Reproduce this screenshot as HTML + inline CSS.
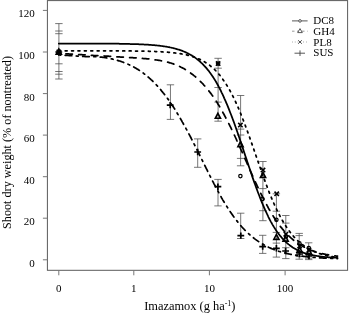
<!DOCTYPE html>
<html><head><meta charset="utf-8"><title>Imazamox dose response</title>
<style>
html,body{margin:0;padding:0;background:#fff}
svg{display:block}
.t{font-family:"Liberation Serif",serif;font-size:11px;fill:#000}
.l{font-family:"Liberation Serif",serif;font-size:12.2px;fill:#000}
</style></head><body>
<svg width="350" height="313" viewBox="0 0 350 313">
<rect width="350" height="313" fill="#fff"/>
<rect x="47.4" y="0.6" width="300.20000000000005" height="269.7" fill="none" stroke="#5a5a5a" stroke-width="1"/>
<line x1="42.9" y1="259.8" x2="47.4" y2="259.8" stroke="#777" stroke-width="1"/>
<text x="34.8" y="266.7" text-anchor="end" class="t">0</text>
<line x1="42.9" y1="218.2" x2="47.4" y2="218.2" stroke="#777" stroke-width="1"/>
<text x="34.8" y="225.1" text-anchor="end" class="t">20</text>
<line x1="42.9" y1="176.7" x2="47.4" y2="176.7" stroke="#777" stroke-width="1"/>
<text x="34.8" y="183.6" text-anchor="end" class="t">40</text>
<line x1="42.9" y1="135.1" x2="47.4" y2="135.1" stroke="#777" stroke-width="1"/>
<text x="34.8" y="142.0" text-anchor="end" class="t">60</text>
<line x1="42.9" y1="93.6" x2="47.4" y2="93.6" stroke="#777" stroke-width="1"/>
<text x="34.8" y="100.5" text-anchor="end" class="t">80</text>
<line x1="42.9" y1="52.0" x2="47.4" y2="52.0" stroke="#777" stroke-width="1"/>
<text x="34.8" y="58.9" text-anchor="end" class="t">100</text>
<line x1="42.9" y1="10.4" x2="47.4" y2="10.4" stroke="#777" stroke-width="1"/>
<text x="34.8" y="17.3" text-anchor="end" class="t">120</text>
<line x1="58.8" y1="270.3" x2="58.8" y2="275.3" stroke="#777" stroke-width="1"/>
<text x="58.8" y="292.2" text-anchor="middle" class="t">0</text>
<line x1="133.8" y1="270.3" x2="133.8" y2="275.3" stroke="#777" stroke-width="1"/>
<text x="133.8" y="292.2" text-anchor="middle" class="t">1</text>
<line x1="209.4" y1="270.3" x2="209.4" y2="275.3" stroke="#777" stroke-width="1"/>
<text x="209.4" y="292.2" text-anchor="middle" class="t">10</text>
<line x1="285.1" y1="270.3" x2="285.1" y2="275.3" stroke="#777" stroke-width="1"/>
<text x="285.1" y="292.2" text-anchor="middle" class="t">100</text>
<line x1="58.9" y1="23.6" x2="58.9" y2="79.0" stroke="#4a4a4a" stroke-width="0.75"/>
<line x1="55.199999999999996" y1="23.6" x2="62.6" y2="23.6" stroke="#4a4a4a" stroke-width="0.75"/>
<line x1="55.199999999999996" y1="31.0" x2="62.6" y2="31.0" stroke="#4a4a4a" stroke-width="0.75"/>
<line x1="55.199999999999996" y1="33.7" x2="62.6" y2="33.7" stroke="#4a4a4a" stroke-width="0.75"/>
<line x1="55.199999999999996" y1="63.8" x2="62.6" y2="63.8" stroke="#4a4a4a" stroke-width="0.75"/>
<line x1="55.199999999999996" y1="71.5" x2="62.6" y2="71.5" stroke="#4a4a4a" stroke-width="0.75"/>
<line x1="55.199999999999996" y1="74.2" x2="62.6" y2="74.2" stroke="#4a4a4a" stroke-width="0.75"/>
<line x1="55.199999999999996" y1="79.0" x2="62.6" y2="79.0" stroke="#4a4a4a" stroke-width="0.75"/>
<line x1="170.45" y1="84.8" x2="170.45" y2="119.4" stroke="#4a4a4a" stroke-width="0.75"/>
<line x1="166.75" y1="84.8" x2="174.14999999999998" y2="84.8" stroke="#4a4a4a" stroke-width="0.75"/>
<line x1="166.75" y1="119.4" x2="174.14999999999998" y2="119.4" stroke="#4a4a4a" stroke-width="0.75"/>
<line x1="197.7" y1="138.9" x2="197.7" y2="167.3" stroke="#4a4a4a" stroke-width="0.75"/>
<line x1="194.0" y1="138.9" x2="201.39999999999998" y2="138.9" stroke="#4a4a4a" stroke-width="0.75"/>
<line x1="194.0" y1="167.3" x2="201.39999999999998" y2="167.3" stroke="#4a4a4a" stroke-width="0.75"/>
<line x1="218.1" y1="58.3" x2="218.1" y2="121.2" stroke="#4a4a4a" stroke-width="0.75"/>
<line x1="214.4" y1="58.3" x2="221.79999999999998" y2="58.3" stroke="#4a4a4a" stroke-width="0.75"/>
<line x1="214.4" y1="68.2" x2="221.79999999999998" y2="68.2" stroke="#4a4a4a" stroke-width="0.75"/>
<line x1="214.4" y1="87.5" x2="221.79999999999998" y2="87.5" stroke="#4a4a4a" stroke-width="0.75"/>
<line x1="214.4" y1="102.1" x2="221.79999999999998" y2="102.1" stroke="#4a4a4a" stroke-width="0.75"/>
<line x1="214.4" y1="121.2" x2="221.79999999999998" y2="121.2" stroke="#4a4a4a" stroke-width="0.75"/>
<line x1="218.0" y1="179.4" x2="218.0" y2="205.9" stroke="#4a4a4a" stroke-width="0.75"/>
<line x1="214.3" y1="179.4" x2="221.7" y2="179.4" stroke="#4a4a4a" stroke-width="0.75"/>
<line x1="214.3" y1="205.9" x2="221.7" y2="205.9" stroke="#4a4a4a" stroke-width="0.75"/>
<line x1="240.6" y1="95.5" x2="240.6" y2="165.8" stroke="#4a4a4a" stroke-width="0.75"/>
<line x1="236.9" y1="95.5" x2="244.29999999999998" y2="95.5" stroke="#4a4a4a" stroke-width="0.75"/>
<line x1="236.9" y1="129.1" x2="244.29999999999998" y2="129.1" stroke="#4a4a4a" stroke-width="0.75"/>
<line x1="236.9" y1="135" x2="244.29999999999998" y2="135" stroke="#4a4a4a" stroke-width="0.75"/>
<line x1="236.9" y1="158.4" x2="244.29999999999998" y2="158.4" stroke="#4a4a4a" stroke-width="0.75"/>
<line x1="236.9" y1="165.8" x2="244.29999999999998" y2="165.8" stroke="#4a4a4a" stroke-width="0.75"/>
<line x1="240.7" y1="213.2" x2="240.7" y2="238.5" stroke="#4a4a4a" stroke-width="0.75"/>
<line x1="237.0" y1="213.2" x2="244.39999999999998" y2="213.2" stroke="#4a4a4a" stroke-width="0.75"/>
<line x1="237.0" y1="238.5" x2="244.39999999999998" y2="238.5" stroke="#4a4a4a" stroke-width="0.75"/>
<line x1="262.9" y1="161.5" x2="262.9" y2="220.7" stroke="#4a4a4a" stroke-width="0.75"/>
<line x1="259.2" y1="161.5" x2="266.59999999999997" y2="161.5" stroke="#4a4a4a" stroke-width="0.75"/>
<line x1="259.2" y1="188.6" x2="266.59999999999997" y2="188.6" stroke="#4a4a4a" stroke-width="0.75"/>
<line x1="259.2" y1="210.7" x2="266.59999999999997" y2="210.7" stroke="#4a4a4a" stroke-width="0.75"/>
<line x1="259.2" y1="220.7" x2="266.59999999999997" y2="220.7" stroke="#4a4a4a" stroke-width="0.75"/>
<line x1="262.7" y1="235.3" x2="262.7" y2="253.4" stroke="#4a4a4a" stroke-width="0.75"/>
<line x1="259.0" y1="235.3" x2="266.4" y2="235.3" stroke="#4a4a4a" stroke-width="0.75"/>
<line x1="259.0" y1="253.4" x2="266.4" y2="253.4" stroke="#4a4a4a" stroke-width="0.75"/>
<line x1="276.4" y1="193.8" x2="276.4" y2="257.1" stroke="#4a4a4a" stroke-width="0.75"/>
<line x1="272.7" y1="193.8" x2="280.09999999999997" y2="193.8" stroke="#4a4a4a" stroke-width="0.75"/>
<line x1="272.7" y1="211.2" x2="280.09999999999997" y2="211.2" stroke="#4a4a4a" stroke-width="0.75"/>
<line x1="272.7" y1="232.4" x2="280.09999999999997" y2="232.4" stroke="#4a4a4a" stroke-width="0.75"/>
<line x1="272.7" y1="243.1" x2="280.09999999999997" y2="243.1" stroke="#4a4a4a" stroke-width="0.75"/>
<line x1="272.7" y1="257.1" x2="280.09999999999997" y2="257.1" stroke="#4a4a4a" stroke-width="0.75"/>
<line x1="285.8" y1="215.5" x2="285.8" y2="258.6" stroke="#4a4a4a" stroke-width="0.75"/>
<line x1="282.1" y1="215.5" x2="289.5" y2="215.5" stroke="#4a4a4a" stroke-width="0.75"/>
<line x1="282.1" y1="223.1" x2="289.5" y2="223.1" stroke="#4a4a4a" stroke-width="0.75"/>
<line x1="282.1" y1="247.7" x2="289.5" y2="247.7" stroke="#4a4a4a" stroke-width="0.75"/>
<line x1="282.1" y1="258.6" x2="289.5" y2="258.6" stroke="#4a4a4a" stroke-width="0.75"/>
<line x1="299.2" y1="233.4" x2="299.2" y2="259.2" stroke="#4a4a4a" stroke-width="0.75"/>
<line x1="295.5" y1="233.4" x2="302.9" y2="233.4" stroke="#4a4a4a" stroke-width="0.75"/>
<line x1="295.5" y1="235.6" x2="302.9" y2="235.6" stroke="#4a4a4a" stroke-width="0.75"/>
<line x1="295.5" y1="256.6" x2="302.9" y2="256.6" stroke="#4a4a4a" stroke-width="0.75"/>
<line x1="295.5" y1="259.2" x2="302.9" y2="259.2" stroke="#4a4a4a" stroke-width="0.75"/>
<line x1="308.7" y1="242.8" x2="308.7" y2="259.6" stroke="#4a4a4a" stroke-width="0.75"/>
<line x1="305.0" y1="242.8" x2="312.4" y2="242.8" stroke="#4a4a4a" stroke-width="0.75"/>
<line x1="305.0" y1="258.2" x2="312.4" y2="258.2" stroke="#4a4a4a" stroke-width="0.75"/>
<line x1="305.0" y1="259.6" x2="312.4" y2="259.6" stroke="#4a4a4a" stroke-width="0.75"/>
<path d="M58.8,43.5 L59.5,43.5 L60.2,43.5 L60.9,43.5 L61.6,43.5 L62.3,43.5 L63.0,43.5 L63.7,43.5 L64.4,43.5 L65.1,43.5 L65.8,43.5 L66.5,43.5 L67.2,43.5 L67.9,43.5 L68.6,43.5 L69.3,43.5 L70.0,43.5 L70.7,43.5 L71.4,43.5 L72.1,43.5 L72.8,43.5 L73.5,43.5 L74.2,43.5 L74.9,43.5 L75.6,43.5 L76.3,43.5 L77.0,43.5 L77.7,43.5 L78.4,43.5 L79.1,43.5 L79.8,43.5 L80.5,43.5 L81.2,43.5 L81.9,43.5 L82.5,43.5 L83.2,43.5 L83.9,43.5 L84.6,43.5 L85.3,43.5 L86.0,43.5 L86.7,43.5 L87.4,43.5 L88.1,43.5 L88.8,43.5 L89.5,43.5 L90.2,43.5 L90.9,43.5 L91.6,43.5 L92.3,43.5 L93.0,43.6 L93.7,43.6 L94.4,43.6 L95.1,43.6 L95.8,43.6 L96.5,43.6 L97.2,43.6 L97.9,43.6 L98.6,43.6 L99.3,43.6 L100.0,43.6 L100.7,43.6 L101.4,43.6 L102.1,43.6 L102.8,43.6 L103.5,43.6 L104.2,43.6 L104.9,43.6 L105.6,43.6 L106.3,43.6 L107.0,43.6 L107.7,43.6 L108.4,43.6 L109.1,43.6 L109.8,43.6 L110.5,43.7 L111.2,43.7 L111.9,43.7 L112.6,43.7 L113.3,43.7 L114.0,43.7 L114.7,43.7 L115.4,43.7 L116.1,43.7 L116.8,43.7 L117.5,43.7 L118.2,43.7 L118.9,43.7 L119.6,43.8 L120.3,43.8 L121.0,43.8 L121.7,43.8 L122.4,43.8 L123.1,43.8 L123.8,43.8 L124.5,43.8 L125.2,43.9 L125.9,43.9 L126.6,43.9 L127.3,43.9 L128.0,43.9 L128.6,43.9 L129.3,43.9 L130.0,44.0 L130.7,44.0 L131.4,44.0 L132.1,44.0 L132.8,44.0 L133.5,44.1 L134.2,44.1 L134.9,44.1 L135.6,44.1 L136.3,44.1 L137.0,44.2 L137.7,44.2 L138.4,44.2 L139.1,44.3 L139.8,44.3 L140.5,44.3 L141.2,44.3 L141.9,44.4 L142.6,44.4 L143.3,44.4 L144.0,44.5 L144.7,44.5 L145.4,44.6 L146.1,44.6 L146.8,44.6 L147.5,44.7 L148.2,44.7 L148.9,44.8 L149.6,44.8 L150.3,44.9 L151.0,44.9 L151.7,45.0 L152.4,45.0 L153.1,45.1 L153.8,45.2 L154.5,45.2 L155.2,45.3 L155.9,45.3 L156.6,45.4 L157.3,45.5 L158.0,45.6 L158.7,45.6 L159.4,45.7 L160.1,45.8 L160.8,45.9 L161.5,46.0 L162.2,46.1 L162.9,46.2 L163.6,46.3 L164.3,46.4 L165.0,46.5 L165.7,46.6 L166.4,46.7 L167.1,46.8 L167.8,47.0 L168.5,47.1 L169.2,47.2 L169.9,47.4 L170.6,47.5 L171.3,47.7 L172.0,47.8 L172.7,48.0 L173.4,48.1 L174.1,48.3 L174.8,48.5 L175.4,48.7 L176.1,48.9 L176.8,49.1 L177.5,49.3 L178.2,49.5 L178.9,49.7 L179.6,49.9 L180.3,50.2 L181.0,50.4 L181.7,50.7 L182.4,50.9 L183.1,51.2 L183.8,51.5 L184.5,51.8 L185.2,52.1 L185.9,52.4 L186.6,52.7 L187.3,53.1 L188.0,53.4 L188.7,53.8 L189.4,54.2 L190.1,54.5 L190.8,54.9 L191.5,55.3 L192.2,55.8 L192.9,56.2 L193.6,56.7 L194.3,57.1 L195.0,57.6 L195.7,58.1 L196.4,58.6 L197.1,59.2 L197.8,59.7 L198.5,60.3 L199.2,60.9 L199.9,61.5 L200.6,62.1 L201.3,62.8 L202.0,63.4 L202.7,64.1 L203.4,64.8 L204.1,65.6 L204.8,66.3 L205.5,67.1 L206.2,67.9 L206.9,68.7 L207.6,69.6 L208.3,70.4 L209.0,71.3 L209.7,72.3 L210.4,73.2 L211.1,74.2 L211.8,75.2 L212.5,76.2 L213.2,77.3 L213.9,78.4 L214.6,79.5 L215.3,80.6 L216.0,81.8 L216.7,83.0 L217.4,84.3 L218.1,85.5 L218.8,86.8 L219.5,88.1 L220.2,89.5 L220.9,90.9 L221.5,92.3 L222.2,93.7 L222.9,95.2 L223.6,96.7 L224.3,98.3 L225.0,99.8 L225.7,101.4 L226.4,103.1 L227.1,104.7 L227.8,106.4 L228.5,108.1 L229.2,109.9 L229.9,111.7 L230.6,113.5 L231.3,115.3 L232.0,117.1 L232.7,119.0 L233.4,120.9 L234.1,122.8 L234.8,124.8 L235.5,126.7 L236.2,128.7 L236.9,130.7 L237.6,132.7 L238.3,134.8 L239.0,136.8 L239.7,138.9 L240.4,141.0 L241.1,143.1 L241.8,145.1 L242.5,147.3 L243.2,149.4 L243.9,151.5 L244.6,153.6 L245.3,155.7 L246.0,157.8 L246.7,159.9 L247.4,162.0 L248.1,164.1 L248.8,166.2 L249.5,168.3 L250.2,170.4 L250.9,172.5 L251.6,174.5 L252.3,176.6 L253.0,178.6 L253.7,180.6 L254.4,182.6 L255.1,184.5 L255.8,186.5 L256.5,188.4 L257.2,190.3 L257.9,192.2 L258.6,194.0 L259.3,195.8 L260.0,197.6 L260.7,199.4 L261.4,201.1 L262.1,202.8 L262.8,204.5 L263.5,206.2 L264.2,207.8 L264.9,209.4 L265.6,210.9 L266.3,212.4 L267.0,213.9 L267.7,215.3 L268.3,216.8 L269.0,218.1 L269.7,219.5 L270.4,220.8 L271.1,222.1 L271.8,223.3 L272.5,224.6 L273.2,225.7 L273.9,226.9 L274.6,228.0 L275.3,229.1 L276.0,230.2 L276.7,231.2 L277.4,232.2 L278.1,233.1 L278.8,234.1 L279.5,235.0 L280.2,235.9 L280.9,236.7 L281.6,237.5 L282.3,238.3 L283.0,239.1 L283.7,239.8 L284.4,240.6 L285.1,241.3 L285.8,241.9 L286.5,242.6 L287.2,243.2 L287.9,243.8 L288.6,244.4 L289.3,244.9 L290.0,245.5 L290.7,246.0 L291.4,246.5 L292.1,247.0 L292.8,247.5 L293.5,247.9 L294.2,248.3 L294.9,248.7 L295.6,249.1 L296.3,249.5 L297.0,249.9 L297.7,250.3 L298.4,250.6 L299.1,250.9 L299.8,251.2 L300.5,251.5 L301.2,251.8 L301.9,252.1 L302.6,252.4 L303.3,252.6 L304.0,252.9 L304.7,253.1 L305.4,253.3 L306.1,253.6 L306.8,253.8 L307.5,254.0 L308.2,254.2 L308.9,254.3 L309.6,254.5 L310.3,254.7 L311.0,254.8 L311.7,255.0 L312.4,255.1 L313.1,255.3 L313.8,255.4 L314.4,255.6 L315.1,255.7 L315.8,255.8 L316.5,255.9 L317.2,256.0 L317.9,256.1 L318.6,256.2 L319.3,256.3 L320.0,256.4 L320.7,256.5 L321.4,256.6 L322.1,256.7 L322.8,256.8 L323.5,256.8 L324.2,256.9 L324.9,257.0 L325.6,257.0 L326.3,257.1 L327.0,257.2 L327.7,257.2 L328.4,257.3 L329.1,257.3 L329.8,257.4 L330.5,257.4 L331.2,257.5 L331.9,257.5 L332.6,257.5 L333.3,257.6 L334.0,257.6 L334.7,257.7 L335.4,257.7 L336.1,257.7 L336.8,257.8 L337.5,257.8" fill="none" stroke="#000" stroke-width="1.75" stroke-linecap="round" stroke-linejoin="round"/>
<path d="M58.8,50.8 L59.5,50.8 L60.2,50.8 L60.9,50.8 L61.6,50.8 L62.3,50.8 L63.0,50.8 L63.7,50.8 L64.4,50.8 L65.1,50.8 L65.8,50.8 L66.5,50.8 L67.2,50.8 L67.9,50.8 L68.6,50.8 L69.3,50.8 L70.0,50.8 L70.7,50.8 L71.4,50.8 L72.1,50.8 L72.8,50.8 L73.5,50.8 L74.2,50.8 L74.9,50.8 L75.6,50.8 L76.3,50.8 L77.0,50.8 L77.7,50.8 L78.4,50.8 L79.1,50.8 L79.8,50.8 L80.5,50.8 L81.2,50.8 L81.9,50.8 L82.5,50.8 L83.2,50.8 L83.9,50.8 L84.6,50.8 L85.3,50.8 L86.0,50.8 L86.7,50.8 L87.4,50.8 L88.1,50.8 L88.8,50.8 L89.5,50.8 L90.2,50.8 L90.9,50.8 L91.6,50.8 L92.3,50.8 L93.0,50.8 L93.7,50.8 L94.4,50.8 L95.1,50.8 L95.8,50.8 L96.5,50.8 L97.2,50.8 L97.9,50.8 L98.6,50.8 L99.3,50.8 L100.0,50.8 L100.7,50.8 L101.4,50.8 L102.1,50.8 L102.8,50.8 L103.5,50.8 L104.2,50.8 L104.9,50.8 L105.6,50.8 L106.3,50.8 L107.0,50.8 L107.7,50.8 L108.4,50.8 L109.1,50.8 L109.8,50.8 L110.5,50.8 L111.2,50.8 L111.9,50.8 L112.6,50.8 L113.3,50.8 L114.0,50.8 L114.7,50.8 L115.4,50.8 L116.1,50.8 L116.8,50.8 L117.5,50.8 L118.2,50.8 L118.9,50.8 L119.6,50.8 L120.3,50.8 L121.0,50.9 L121.7,50.9 L122.4,50.9 L123.1,50.9 L123.8,50.9 L124.5,50.9 L125.2,50.9 L125.9,50.9 L126.6,50.9 L127.3,50.9 L128.0,50.9 L128.6,50.9 L129.3,50.9 L130.0,50.9 L130.7,50.9 L131.4,50.9 L132.1,50.9 L132.8,51.0 L133.5,51.0 L134.2,51.0 L134.9,51.0 L135.6,51.0 L136.3,51.0 L137.0,51.0 L137.7,51.0 L138.4,51.0 L139.1,51.0 L139.8,51.1 L140.5,51.1 L141.2,51.1 L141.9,51.1 L142.6,51.1 L143.3,51.1 L144.0,51.1 L144.7,51.1 L145.4,51.2 L146.1,51.2 L146.8,51.2 L147.5,51.2 L148.2,51.2 L148.9,51.3 L149.6,51.3 L150.3,51.3 L151.0,51.3 L151.7,51.3 L152.4,51.4 L153.1,51.4 L153.8,51.4 L154.5,51.4 L155.2,51.5 L155.9,51.5 L156.6,51.5 L157.3,51.6 L158.0,51.6 L158.7,51.6 L159.4,51.7 L160.1,51.7 L160.8,51.7 L161.5,51.8 L162.2,51.8 L162.9,51.9 L163.6,51.9 L164.3,51.9 L165.0,52.0 L165.7,52.0 L166.4,52.1 L167.1,52.1 L167.8,52.2 L168.5,52.3 L169.2,52.3 L169.9,52.4 L170.6,52.5 L171.3,52.5 L172.0,52.6 L172.7,52.7 L173.4,52.7 L174.1,52.8 L174.8,52.9 L175.4,53.0 L176.1,53.1 L176.8,53.2 L177.5,53.3 L178.2,53.4 L178.9,53.5 L179.6,53.6 L180.3,53.7 L181.0,53.8 L181.7,53.9 L182.4,54.1 L183.1,54.2 L183.8,54.3 L184.5,54.5 L185.2,54.6 L185.9,54.8 L186.6,54.9 L187.3,55.1 L188.0,55.3 L188.7,55.4 L189.4,55.6 L190.1,55.8 L190.8,56.0 L191.5,56.2 L192.2,56.4 L192.9,56.7 L193.6,56.9 L194.3,57.1 L195.0,57.4 L195.7,57.6 L196.4,57.9 L197.1,58.2 L197.8,58.5 L198.5,58.8 L199.2,59.1 L199.9,59.4 L200.6,59.7 L201.3,60.1 L202.0,60.4 L202.7,60.8 L203.4,61.2 L204.1,61.6 L204.8,62.0 L205.5,62.4 L206.2,62.9 L206.9,63.3 L207.6,63.8 L208.3,64.3 L209.0,64.8 L209.7,65.3 L210.4,65.9 L211.1,66.5 L211.8,67.0 L212.5,67.6 L213.2,68.3 L213.9,68.9 L214.6,69.6 L215.3,70.2 L216.0,71.0 L216.7,71.7 L217.4,72.4 L218.1,73.2 L218.8,74.0 L219.5,74.8 L220.2,75.7 L220.9,76.6 L221.5,77.5 L222.2,78.4 L222.9,79.4 L223.6,80.4 L224.3,81.4 L225.0,82.4 L225.7,83.5 L226.4,84.6 L227.1,85.7 L227.8,86.9 L228.5,88.1 L229.2,89.3 L229.9,90.5 L230.6,91.8 L231.3,93.1 L232.0,94.5 L232.7,95.8 L233.4,97.2 L234.1,98.7 L234.8,100.1 L235.5,101.6 L236.2,103.2 L236.9,104.7 L237.6,106.3 L238.3,107.9 L239.0,109.5 L239.7,111.2 L240.4,112.9 L241.1,114.6 L241.8,116.4 L242.5,118.2 L243.2,120.0 L243.9,121.8 L244.6,123.6 L245.3,125.5 L246.0,127.4 L246.7,129.3 L247.4,131.2 L248.1,133.1 L248.8,135.1 L249.5,137.0 L250.2,139.0 L250.9,141.0 L251.6,143.0 L252.3,145.0 L253.0,147.0 L253.7,149.0 L254.4,151.1 L255.1,153.1 L255.8,155.1 L256.5,157.2 L257.2,159.2 L257.9,161.2 L258.6,163.2 L259.3,165.2 L260.0,167.2 L260.7,169.2 L261.4,171.2 L262.1,173.2 L262.8,175.1 L263.5,177.0 L264.2,179.0 L264.9,180.9 L265.6,182.7 L266.3,184.6 L267.0,186.5 L267.7,188.3 L268.3,190.1 L269.0,191.8 L269.7,193.6 L270.4,195.3 L271.1,197.0 L271.8,198.7 L272.5,200.3 L273.2,202.0 L273.9,203.5 L274.6,205.1 L275.3,206.6 L276.0,208.1 L276.7,209.6 L277.4,211.1 L278.1,212.5 L278.8,213.9 L279.5,215.2 L280.2,216.5 L280.9,217.8 L281.6,219.1 L282.3,220.3 L283.0,221.5 L283.7,222.7 L284.4,223.9 L285.1,225.0 L285.8,226.1 L286.5,227.1 L287.2,228.2 L287.9,229.2 L288.6,230.2 L289.3,231.1 L290.0,232.0 L290.7,232.9 L291.4,233.8 L292.1,234.7 L292.8,235.5 L293.5,236.3 L294.2,237.1 L294.9,237.8 L295.6,238.6 L296.3,239.3 L297.0,240.0 L297.7,240.6 L298.4,241.3 L299.1,241.9 L299.8,242.5 L300.5,243.1 L301.2,243.7 L301.9,244.2 L302.6,244.8 L303.3,245.3 L304.0,245.8 L304.7,246.3 L305.4,246.8 L306.1,247.2 L306.8,247.7 L307.5,248.1 L308.2,248.5 L308.9,248.9 L309.6,249.3 L310.3,249.7 L311.0,250.0 L311.7,250.4 L312.4,250.7 L313.1,251.0 L313.8,251.3 L314.4,251.6 L315.1,251.9 L315.8,252.2 L316.5,252.5 L317.2,252.8 L317.9,253.0 L318.6,253.3 L319.3,253.5 L320.0,253.7 L320.7,253.9 L321.4,254.2 L322.1,254.4 L322.8,254.6 L323.5,254.8 L324.2,254.9 L324.9,255.1 L325.6,255.3 L326.3,255.5 L327.0,255.6 L327.7,255.8 L328.4,255.9 L329.1,256.1 L329.8,256.2 L330.5,256.3 L331.2,256.5 L331.9,256.6 L332.6,256.7 L333.3,256.8 L334.0,256.9 L334.7,257.1 L335.4,257.2 L336.1,257.3 L336.8,257.4 L337.5,257.4" fill="none" stroke="#000" stroke-width="1.75" stroke-linecap="round" stroke-linejoin="round" stroke-dasharray="1.9 4.5" stroke-dashoffset="0"/>
<path d="M58.8,53.7 L59.5,53.7 L60.2,53.7 L60.9,53.7 L61.6,53.7 L62.3,53.7 L63.0,53.7 L63.7,53.8 L64.4,53.8 L65.1,53.8 L65.8,53.8 L66.5,53.8 L67.2,53.9 L67.9,53.9 L68.6,53.9 L69.3,54.0 L70.0,54.0 L70.7,54.0 L71.4,54.1 L72.1,54.1 L72.8,54.1 L73.5,54.2 L74.2,54.2 L74.9,54.3 L75.6,54.3 L76.3,54.3 L77.0,54.4 L77.7,54.4 L78.4,54.5 L79.1,54.5 L79.8,54.6 L80.5,54.6 L81.2,54.7 L81.9,54.7 L82.5,54.8 L83.2,54.8 L83.9,54.9 L84.6,54.9 L85.3,55.0 L86.0,55.0 L86.7,55.1 L87.4,55.1 L88.1,55.2 L88.8,55.2 L89.5,55.2 L90.2,55.3 L90.9,55.3 L91.6,55.4 L92.3,55.4 L93.0,55.4 L93.7,55.5 L94.4,55.5 L95.1,55.5 L95.8,55.6 L96.5,55.6 L97.2,55.6 L97.9,55.7 L98.6,55.7 L99.3,55.7 L100.0,55.8 L100.7,55.8 L101.4,55.8 L102.1,55.9 L102.8,55.9 L103.5,55.9 L104.2,56.0 L104.9,56.0 L105.6,56.1 L106.3,56.1 L107.0,56.1 L107.7,56.2 L108.4,56.2 L109.1,56.3 L109.8,56.3 L110.5,56.3 L111.2,56.4 L111.9,56.4 L112.6,56.5 L113.3,56.5 L114.0,56.6 L114.7,56.6 L115.4,56.7 L116.1,56.7 L116.8,56.8 L117.5,56.8 L118.2,56.8 L118.9,56.9 L119.6,56.9 L120.3,57.0 L121.0,57.0 L121.7,57.1 L122.4,57.1 L123.1,57.1 L123.8,57.2 L124.5,57.2 L125.2,57.3 L125.9,57.3 L126.6,57.4 L127.3,57.4 L128.0,57.4 L128.6,57.5 L129.3,57.5 L130.0,57.6 L130.7,57.6 L131.4,57.7 L132.1,57.7 L132.8,57.7 L133.5,57.8 L134.2,57.8 L134.9,57.9 L135.6,57.9 L136.3,58.0 L137.0,58.0 L137.7,58.1 L138.4,58.1 L139.1,58.2 L139.8,58.2 L140.5,58.3 L141.2,58.3 L141.9,58.4 L142.6,58.4 L143.3,58.5 L144.0,58.5 L144.7,58.6 L145.4,58.7 L146.1,58.7 L146.8,58.8 L147.5,58.9 L148.2,58.9 L148.9,59.0 L149.6,59.1 L150.3,59.1 L151.0,59.2 L151.7,59.3 L152.4,59.4 L153.1,59.5 L153.8,59.6 L154.5,59.7 L155.2,59.8 L155.9,59.9 L156.6,60.0 L157.3,60.1 L158.0,60.2 L158.7,60.3 L159.4,60.4 L160.1,60.5 L160.8,60.7 L161.5,60.8 L162.2,60.9 L162.9,61.1 L163.6,61.2 L164.3,61.4 L165.0,61.5 L165.7,61.7 L166.4,61.9 L167.1,62.0 L167.8,62.2 L168.5,62.4 L169.2,62.6 L169.9,62.8 L170.6,63.0 L171.3,63.2 L172.0,63.5 L172.7,63.7 L173.4,63.9 L174.1,64.2 L174.8,64.4 L175.4,64.7 L176.1,65.0 L176.8,65.3 L177.5,65.5 L178.2,65.8 L178.9,66.2 L179.6,66.5 L180.3,66.8 L181.0,67.2 L181.7,67.5 L182.4,67.9 L183.1,68.2 L183.8,68.6 L184.5,69.0 L185.2,69.4 L185.9,69.9 L186.6,70.3 L187.3,70.7 L188.0,71.2 L188.7,71.7 L189.4,72.2 L190.1,72.6 L190.8,73.2 L191.5,73.7 L192.2,74.2 L192.9,74.7 L193.6,75.3 L194.3,75.9 L195.0,76.4 L195.7,77.0 L196.4,77.6 L197.1,78.3 L197.8,78.9 L198.5,79.5 L199.2,80.2 L199.9,80.9 L200.6,81.6 L201.3,82.3 L202.0,83.0 L202.7,83.7 L203.4,84.5 L204.1,85.3 L204.8,86.0 L205.5,86.8 L206.2,87.6 L206.9,88.5 L207.6,89.3 L208.3,90.2 L209.0,91.1 L209.7,92.0 L210.4,92.9 L211.1,93.8 L211.8,94.8 L212.5,95.7 L213.2,96.7 L213.9,97.7 L214.6,98.8 L215.3,99.8 L216.0,100.9 L216.7,101.9 L217.4,103.0 L218.1,104.2 L218.8,105.3 L219.5,106.4 L220.2,107.6 L220.9,108.8 L221.5,110.0 L222.2,111.2 L222.9,112.5 L223.6,113.7 L224.3,115.0 L225.0,116.3 L225.7,117.6 L226.4,118.9 L227.1,120.3 L227.8,121.6 L228.5,123.0 L229.2,124.4 L229.9,125.8 L230.6,127.2 L231.3,128.7 L232.0,130.1 L232.7,131.6 L233.4,133.0 L234.1,134.5 L234.8,136.0 L235.5,137.5 L236.2,139.0 L236.9,140.6 L237.6,142.1 L238.3,143.6 L239.0,145.2 L239.7,146.7 L240.4,148.3 L241.1,149.9 L241.8,151.4 L242.5,153.0 L243.2,154.6 L243.9,156.2 L244.6,157.8 L245.3,159.4 L246.0,161.0 L246.7,162.5 L247.4,164.1 L248.1,165.7 L248.8,167.3 L249.5,168.9 L250.2,170.5 L250.9,172.0 L251.6,173.6 L252.3,175.2 L253.0,176.7 L253.7,178.3 L254.4,179.8 L255.1,181.3 L255.8,182.9 L256.5,184.4 L257.2,185.9 L257.9,187.3 L258.6,188.8 L259.3,190.3 L260.0,191.7 L260.7,193.2 L261.4,194.6 L262.1,196.0 L262.8,197.4 L263.5,198.7 L264.2,200.1 L264.9,201.4 L265.6,202.8 L266.3,204.1 L267.0,205.4 L267.7,206.6 L268.3,207.9 L269.0,209.1 L269.7,210.3 L270.4,211.5 L271.1,212.7 L271.8,213.8 L272.5,215.0 L273.2,216.1 L273.9,217.2 L274.6,218.3 L275.3,219.3 L276.0,220.4 L276.7,221.4 L277.4,222.4 L278.1,223.4 L278.8,224.3 L279.5,225.2 L280.2,226.2 L280.9,227.1 L281.6,227.9 L282.3,228.8 L283.0,229.6 L283.7,230.5 L284.4,231.3 L285.1,232.0 L285.8,232.8 L286.5,233.5 L287.2,234.3 L287.9,235.0 L288.6,235.7 L289.3,236.4 L290.0,237.0 L290.7,237.7 L291.4,238.3 L292.1,238.9 L292.8,239.5 L293.5,240.1 L294.2,240.6 L294.9,241.2 L295.6,241.7 L296.3,242.2 L297.0,242.7 L297.7,243.2 L298.4,243.7 L299.1,244.1 L299.8,244.6 L300.5,245.0 L301.2,245.4 L301.9,245.9 L302.6,246.3 L303.3,246.6 L304.0,247.0 L304.7,247.4 L305.4,247.7 L306.1,248.1 L306.8,248.4 L307.5,248.7 L308.2,249.1 L308.9,249.4 L309.6,249.7 L310.3,249.9 L311.0,250.2 L311.7,250.5 L312.4,250.7 L313.1,251.0 L313.8,251.2 L314.4,251.5 L315.1,251.7 L315.8,251.9 L316.5,252.1 L317.2,252.3 L317.9,252.5 L318.6,252.7 L319.3,252.9 L320.0,253.1 L320.7,253.3 L321.4,253.4 L322.1,253.6 L322.8,253.8 L323.5,253.9 L324.2,254.1 L324.9,254.2 L325.6,254.4 L326.3,254.5 L327.0,254.6 L327.7,254.7 L328.4,254.9 L329.1,255.0 L329.8,255.1 L330.5,255.2 L331.2,255.3 L331.9,255.4 L332.6,255.5 L333.3,255.6 L334.0,255.7 L334.7,255.8 L335.4,255.9 L336.1,256.0 L336.8,256.0 L337.5,256.1" fill="none" stroke="#000" stroke-width="1.75" stroke-linecap="round" stroke-linejoin="round" stroke-dasharray="6.5 6.3" stroke-dashoffset="5.7"/>
<path d="M58.8,54.9 L59.5,54.9 L60.2,55.0 L60.9,55.0 L61.6,55.0 L62.3,55.1 L63.0,55.1 L63.7,55.2 L64.4,55.2 L65.1,55.3 L65.8,55.3 L66.5,55.4 L67.2,55.4 L67.9,55.4 L68.6,55.5 L69.3,55.5 L70.0,55.6 L70.7,55.6 L71.4,55.7 L72.1,55.7 L72.8,55.8 L73.5,55.8 L74.2,55.9 L74.9,55.9 L75.6,56.0 L76.3,56.0 L77.0,56.1 L77.7,56.1 L78.4,56.2 L79.1,56.2 L79.8,56.2 L80.5,56.3 L81.2,56.3 L81.9,56.3 L82.5,56.4 L83.2,56.4 L83.9,56.4 L84.6,56.5 L85.3,56.5 L86.0,56.5 L86.7,56.5 L87.4,56.5 L88.1,56.6 L88.8,56.6 L89.5,56.6 L90.2,56.6 L90.9,56.6 L91.6,56.6 L92.3,56.6 L93.0,56.6 L93.7,56.7 L94.4,56.7 L95.1,56.7 L95.8,56.7 L96.5,56.8 L97.2,56.8 L97.9,56.9 L98.6,56.9 L99.3,57.0 L100.0,57.0 L100.7,57.1 L101.4,57.2 L102.1,57.2 L102.8,57.3 L103.5,57.4 L104.2,57.5 L104.9,57.6 L105.6,57.7 L106.3,57.8 L107.0,58.0 L107.7,58.1 L108.4,58.2 L109.1,58.3 L109.8,58.5 L110.5,58.6 L111.2,58.8 L111.9,58.9 L112.6,59.1 L113.3,59.3 L114.0,59.4 L114.7,59.6 L115.4,59.8 L116.1,60.0 L116.8,60.2 L117.5,60.4 L118.2,60.6 L118.9,60.8 L119.6,61.0 L120.3,61.2 L121.0,61.5 L121.7,61.7 L122.4,62.0 L123.1,62.2 L123.8,62.5 L124.5,62.7 L125.2,63.0 L125.9,63.3 L126.6,63.6 L127.3,63.9 L128.0,64.2 L128.6,64.5 L129.3,64.8 L130.0,65.1 L130.7,65.5 L131.4,65.8 L132.1,66.2 L132.8,66.5 L133.5,66.9 L134.2,67.3 L134.9,67.7 L135.6,68.1 L136.3,68.5 L137.0,68.9 L137.7,69.3 L138.4,69.8 L139.1,70.2 L139.8,70.7 L140.5,71.1 L141.2,71.6 L141.9,72.1 L142.6,72.6 L143.3,73.1 L144.0,73.7 L144.7,74.2 L145.4,74.8 L146.1,75.3 L146.8,75.9 L147.5,76.5 L148.2,77.1 L148.9,77.7 L149.6,78.3 L150.3,78.9 L151.0,79.6 L151.7,80.2 L152.4,80.9 L153.1,81.6 L153.8,82.3 L154.5,83.0 L155.2,83.7 L155.9,84.4 L156.6,85.2 L157.3,85.9 L158.0,86.7 L158.7,87.5 L159.4,88.3 L160.1,89.1 L160.8,89.9 L161.5,90.8 L162.2,91.6 L162.9,92.5 L163.6,93.3 L164.3,94.2 L165.0,95.1 L165.7,96.0 L166.4,97.0 L167.1,97.9 L167.8,98.9 L168.5,99.8 L169.2,100.8 L169.9,101.8 L170.6,102.8 L171.3,103.9 L172.0,104.9 L172.7,106.0 L173.4,107.0 L174.1,108.1 L174.8,109.2 L175.4,110.3 L176.1,111.4 L176.8,112.6 L177.5,113.7 L178.2,114.9 L178.9,116.0 L179.6,117.2 L180.3,118.4 L181.0,119.6 L181.7,120.8 L182.4,122.1 L183.1,123.3 L183.8,124.6 L184.5,125.8 L185.2,127.1 L185.9,128.4 L186.6,129.6 L187.3,130.9 L188.0,132.2 L188.7,133.6 L189.4,134.9 L190.1,136.2 L190.8,137.5 L191.5,138.9 L192.2,140.2 L192.9,141.6 L193.6,143.0 L194.3,144.4 L195.0,145.7 L195.7,147.1 L196.4,148.5 L197.1,149.9 L197.8,151.3 L198.5,152.7 L199.2,154.1 L199.9,155.6 L200.6,157.0 L201.3,158.4 L202.0,159.8 L202.7,161.2 L203.4,162.6 L204.1,164.1 L204.8,165.5 L205.5,166.9 L206.2,168.3 L206.9,169.7 L207.6,171.1 L208.3,172.5 L209.0,174.0 L209.7,175.4 L210.4,176.7 L211.1,178.1 L211.8,179.5 L212.5,180.9 L213.2,182.2 L213.9,183.6 L214.6,184.9 L215.3,186.2 L216.0,187.5 L216.7,188.8 L217.4,190.1 L218.1,191.4 L218.8,192.7 L219.5,193.9 L220.2,195.2 L220.9,196.4 L221.5,197.7 L222.2,198.9 L222.9,200.1 L223.6,201.2 L224.3,202.4 L225.0,203.6 L225.7,204.7 L226.4,205.8 L227.1,206.9 L227.8,208.0 L228.5,209.1 L229.2,210.2 L229.9,211.2 L230.6,212.3 L231.3,213.3 L232.0,214.3 L232.7,215.3 L233.4,216.3 L234.1,217.2 L234.8,218.2 L235.5,219.1 L236.2,220.0 L236.9,220.9 L237.6,221.8 L238.3,222.7 L239.0,223.5 L239.7,224.3 L240.4,225.2 L241.1,226.0 L241.8,226.8 L242.5,227.5 L243.2,228.3 L243.9,229.0 L244.6,229.8 L245.3,230.5 L246.0,231.2 L246.7,231.9 L247.4,232.6 L248.1,233.2 L248.8,233.9 L249.5,234.5 L250.2,235.1 L250.9,235.7 L251.6,236.3 L252.3,236.9 L253.0,237.5 L253.7,238.0 L254.4,238.6 L255.1,239.1 L255.8,239.6 L256.5,240.1 L257.2,240.6 L257.9,241.1 L258.6,241.6 L259.3,242.0 L260.0,242.5 L260.7,242.9 L261.4,243.4 L262.1,243.8 L262.8,244.2 L263.5,244.6 L264.2,245.0 L264.9,245.4 L265.6,245.7 L266.3,246.1 L267.0,246.4 L267.7,246.8 L268.3,247.1 L269.0,247.5 L269.7,247.8 L270.4,248.1 L271.1,248.4 L271.8,248.7 L272.5,249.0 L273.2,249.3 L273.9,249.5 L274.6,249.8 L275.3,250.1 L276.0,250.3 L276.7,250.6 L277.4,250.8 L278.1,251.0 L278.8,251.3 L279.5,251.5 L280.2,251.7 L280.9,251.9 L281.6,252.1 L282.3,252.3 L283.0,252.5 L283.7,252.7 L284.4,252.9 L285.1,253.1 L285.8,253.2 L286.5,253.4 L287.2,253.6 L287.9,253.7 L288.6,253.9 L289.3,254.0 L290.0,254.2 L290.7,254.3 L291.4,254.5 L292.1,254.6 L292.8,254.7 L293.5,254.9 L294.2,255.0 L294.9,255.1 L295.6,255.2 L296.3,255.3 L297.0,255.4 L297.7,255.6 L298.4,255.7 L299.1,255.8 L299.8,255.9 L300.5,256.0 L301.2,256.1 L301.9,256.1 L302.6,256.2 L303.3,256.3 L304.0,256.4 L304.7,256.5 L305.4,256.6 L306.1,256.6 L306.8,256.7 L307.5,256.8 L308.2,256.9 L308.9,256.9 L309.6,257.0 L310.3,257.1 L311.0,257.1 L311.7,257.2 L312.4,257.2 L313.1,257.3 L313.8,257.4 L314.4,257.4 L315.1,257.5 L315.8,257.5 L316.5,257.6 L317.2,257.6 L317.9,257.7 L318.6,257.7 L319.3,257.8 L320.0,257.8 L320.7,257.8 L321.4,257.9 L322.1,257.9 L322.8,258.0 L323.5,258.0 L324.2,258.0 L324.9,258.1 L325.6,258.1 L326.3,258.1 L327.0,258.2 L327.7,258.2 L328.4,258.2 L329.1,258.3 L329.8,258.3 L330.5,258.3 L331.2,258.3 L331.9,258.4 L332.6,258.4 L333.3,258.4 L334.0,258.5 L334.7,258.5 L335.4,258.5 L336.1,258.5 L336.8,258.5 L337.5,258.6" fill="none" stroke="#000" stroke-width="1.75" stroke-linecap="round" stroke-linejoin="round" stroke-dasharray="1.9 4.5 6.6 4.6" stroke-dashoffset="0"/>
<circle cx="58.8" cy="52" r="1.7" fill="none" stroke="#000" stroke-width="1.2"/>
<circle cx="218.1" cy="63.6" r="1.7" fill="none" stroke="#000" stroke-width="1.2"/>
<circle cx="240.4" cy="176.1" r="1.7" fill="none" stroke="#000" stroke-width="1.2"/>
<circle cx="262.5" cy="199" r="1.7" fill="none" stroke="#000" stroke-width="1.2"/>
<circle cx="276.4" cy="219.8" r="1.7" fill="none" stroke="#000" stroke-width="1.2"/>
<circle cx="286" cy="236.5" r="1.7" fill="none" stroke="#000" stroke-width="1.2"/>
<circle cx="299.4" cy="243.4" r="1.7" fill="none" stroke="#000" stroke-width="1.2"/>
<circle cx="308.8" cy="248" r="1.7" fill="none" stroke="#000" stroke-width="1.2"/>
<path d="M58.8,49.1 L61.4,54.1 L56.199999999999996,54.1 Z" fill="none" stroke="#000" stroke-width="1.6" stroke-linejoin="miter"/>
<path d="M217.9,113.3 L220.5,118.3 L215.3,118.3 Z" fill="none" stroke="#000" stroke-width="1.6" stroke-linejoin="miter"/>
<path d="M240.5,141.6 L243.1,146.6 L237.9,146.6 Z" fill="none" stroke="#000" stroke-width="1.6" stroke-linejoin="miter"/>
<path d="M263,172.4 L265.6,177.4 L260.4,177.4 Z" fill="none" stroke="#000" stroke-width="1.6" stroke-linejoin="miter"/>
<path d="M276.4,234.4 L279.0,239.4 L273.79999999999995,239.4 Z" fill="none" stroke="#000" stroke-width="1.6" stroke-linejoin="miter"/>
<path d="M285.6,236.1 L288.20000000000005,241.1 L283.0,241.1 Z" fill="none" stroke="#000" stroke-width="1.6" stroke-linejoin="miter"/>
<path d="M299.6,247.1 L302.20000000000005,252.1 L297.0,252.1 Z" fill="none" stroke="#000" stroke-width="1.6" stroke-linejoin="miter"/>
<path d="M309,249.1 L311.6,254.1 L306.4,254.1 Z" fill="none" stroke="#000" stroke-width="1.6" stroke-linejoin="miter"/>
<path d="M56.599999999999994,49.8 L61.0,54.2 M56.599999999999994,54.2 L61.0,49.8" fill="none" stroke="#000" stroke-width="1.55"/>
<path d="M215.9,61.4 L220.29999999999998,65.8 M215.9,65.8 L220.29999999999998,61.4" fill="none" stroke="#000" stroke-width="1.55"/>
<path d="M238.20000000000002,122.89999999999999 L242.6,127.3 M238.20000000000002,127.3 L242.6,122.89999999999999" fill="none" stroke="#000" stroke-width="1.55"/>
<path d="M260.8,167.9 L265.2,172.29999999999998 M260.8,172.29999999999998 L265.2,167.9" fill="none" stroke="#000" stroke-width="1.55"/>
<path d="M274.5,191.60000000000002 L278.9,196.0 M274.5,196.0 L278.9,191.60000000000002" fill="none" stroke="#000" stroke-width="1.55"/>
<path d="M283.7,232.0 L288.09999999999997,236.39999999999998 M283.7,236.39999999999998 L288.09999999999997,232.0" fill="none" stroke="#000" stroke-width="1.55"/>
<path d="M297.40000000000003,243.8 L301.8,248.2 M297.40000000000003,248.2 L301.8,243.8" fill="none" stroke="#000" stroke-width="1.55"/>
<path d="M306.8,247.8 L311.2,252.2 M306.8,252.2 L311.2,247.8" fill="none" stroke="#000" stroke-width="1.55"/>
<path d="M55.4,52 L62.199999999999996,52 M58.8,48.800000000000004 L58.8,55.199999999999996" fill="none" stroke="#000" stroke-width="1.7"/>
<path d="M166.79999999999998,105.1 L173.6,105.1 M170.2,101.89999999999999 L170.2,108.3" fill="none" stroke="#000" stroke-width="1.7"/>
<path d="M194.29999999999998,152 L201.1,152 M197.7,148.79999999999998 L197.7,155.20000000000002" fill="none" stroke="#000" stroke-width="1.7"/>
<path d="M214.5,186.7 L221.3,186.7 M217.9,183.49999999999997 L217.9,189.9" fill="none" stroke="#000" stroke-width="1.7"/>
<path d="M237.4,235.6 L244.20000000000002,235.6 M240.8,232.39999999999998 L240.8,238.8" fill="none" stroke="#000" stroke-width="1.7"/>
<path d="M259.3,246.6 L266.09999999999997,246.6 M262.7,243.39999999999998 L262.7,249.8" fill="none" stroke="#000" stroke-width="1.7"/>
<path d="M273.0,248.3 L279.79999999999995,248.3 M276.4,245.1 L276.4,251.50000000000003" fill="none" stroke="#000" stroke-width="1.7"/>
<path d="M282.20000000000005,251 L289.0,251 M285.6,247.79999999999998 L285.6,254.20000000000002" fill="none" stroke="#000" stroke-width="1.7"/>
<path d="M296.20000000000005,254 L303.0,254 M299.6,250.79999999999998 L299.6,257.2" fill="none" stroke="#000" stroke-width="1.7"/>
<path d="M305.6,256 L312.4,256 M309,252.79999999999998 L309,259.2" fill="none" stroke="#000" stroke-width="1.7"/>
<line x1="292" y1="20.9" x2="307.6" y2="20.9" stroke="#444" stroke-width="0.9"/>
<circle cx="300" cy="20.9" r="1.3" fill="#fff" stroke="#444" stroke-width="0.9"/>
<line x1="292" y1="31.2" x2="307.6" y2="31.2" stroke="#444" stroke-width="0.9" stroke-dasharray="2.5 2.5" opacity="0.6"/>
<path d="M300,28.6 L302.3,32.6 L297.7,32.6 Z" fill="#fff" stroke="#444" stroke-width="0.9"/>
<line x1="292" y1="42" x2="307.6" y2="42" stroke="#444" stroke-width="0.9" stroke-dasharray="0.8 2" opacity="0.6"/>
<path d="M298.2,40.2 L301.8,43.8 M298.2,43.8 L301.8,40.2" stroke="#444" stroke-width="0.9"/>
<path d="M294.5,53.2 L305,53.2 M300,50.4 L300,56" stroke="#444" stroke-width="0.9"/>
<text x="313.3" y="23.8" class="t">DC8</text>
<text x="313.3" y="34.6" class="t">GH4</text>
<text x="313.3" y="45.5" class="t">PL8</text>
<text x="313.3" y="56.3" class="t">SUS</text>
<text x="189.8" y="309.8" text-anchor="middle" class="l" style="font-size:12.4px">Imazamox (g ha<tspan dy="-3.6" font-size="8">-1</tspan><tspan dy="3.6">)</tspan></text>
<text transform="translate(10.9,142.5) rotate(-90)" text-anchor="middle" class="l">Shoot dry weight (% of nontreated)</text>
</svg>
</body></html>
